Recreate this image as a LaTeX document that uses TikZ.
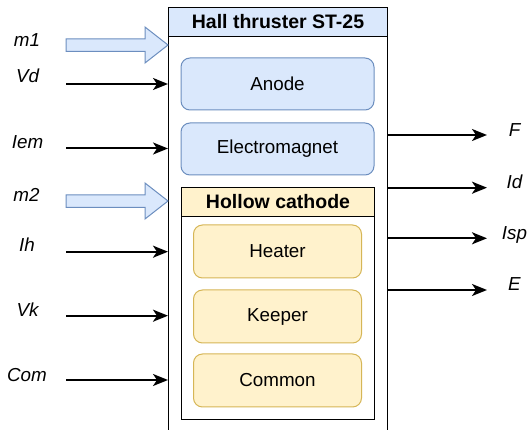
\documentclass[tikz,border=0pt]{standalone}
\usepackage{fontspec}
\setmainfont{Liberation Sans}
\usetikzlibrary{arrows.meta,calc}
\definecolor{bluefill}{HTML}{DAE8FC}
\definecolor{bluedraw}{HTML}{6C8EBF}
\definecolor{yelfill}{HTML}{FFF2CC}
\definecolor{yeldraw}{HTML}{D6B656}
\tikzset{
  txt/.style={font=\fontsize{18.8}{22}\selectfont},
  boldtxt/.style={font=\fontsize{19.5}{22}\selectfont\bfseries},
  lbl/.style={font=\fontsize{18.8}{22}\selectfont\itshape, inner sep=0pt, anchor=base},
  bluebox/.style={txt, draw=bluedraw, fill=bluefill, rounded corners=9pt, line width=1pt, minimum width=193pt, minimum height=52pt, inner sep=0pt},
  yelbox/.style={txt, draw=yeldraw, fill=yelfill, rounded corners=9pt, line width=1pt, minimum width=168pt, minimum height=53pt, inner sep=0pt},
  sig/.style={line width=2pt, -{Stealth[length=15pt,width=12pt,inset=4pt]}},
  blockarr/.style={draw=bluedraw, fill=bluefill, line width=1pt, line join=miter},
}
\begin{document}
\begin{tikzpicture}[x=1pt,y=-1pt]
\useasboundingbox (0,0) rectangle (528,430);
\clip (0,0) rectangle (528,430);
% outer container
\node[draw, fill=white, line width=1pt, anchor=north west, minimum width=219pt, minimum height=440pt, inner sep=0pt] (box) at (168,7) {};
\node[draw, fill=bluefill, line width=1pt, anchor=north west, minimum width=219pt, minimum height=29pt, inner sep=0pt, boldtxt] (title) at (168,7) {Hall thruster ST-25};
% inner blocks
\node[bluebox] (anode) at (277.5,84) {Anode};
\node[bluebox] (emag) at (277.5,149) {Electromagnet};
\node[draw, fill=white, line width=1pt, anchor=north west, minimum width=193pt, minimum height=232pt, inner sep=0pt] (hc) at (181,187) {};
\node[draw, fill=yelfill, line width=1pt, anchor=north west, minimum width=193pt, minimum height=29pt, inner sep=0pt, boldtxt] (hctitle) at (181,187) {Hollow cathode};
\node[yelbox] (heater) at (277.5,251.5) {Heater};
\node[yelbox] (keeper) at (277.5,316.5) {Keeper};
\node[yelbox] (common) at (277.5,380.5) {Common};
% block arrows (mass flows)
\draw[blockarr] (66,39) -- (145,39) -- (145,27) -- (168,45) -- (145,63) -- (145,51.5) -- (66,51.5) -- cycle;
\draw[blockarr] (66,195) -- (145,195) -- (145,183) -- (168,201) -- (145,219) -- (145,207.5) -- (66,207.5) -- cycle;
% input signals
\coordinate (vdS) at (66,84);
\coordinate (iemS) at (66,148.5);
\coordinate (ihS) at (66,251.7);
\coordinate (vkS) at (66,315.7);
\coordinate (comS) at (66,380);
\draw[sig] (vdS) -- (vdS -| box.west);
\draw[sig] (iemS) -- (iemS -| box.west);
\draw[sig] (ihS) -- (ihS -| box.west);
\draw[sig] (vkS) -- (vkS -| box.west);
\draw[sig] (comS) -- (comS -| box.west);
% output signals
\coordinate (fE) at (487,135);
\coordinate (idE) at (487,187.7);
\coordinate (ispE) at (487,238.3);
\coordinate (eE) at (487,290);
\draw[sig] (fE -| box.east) -- (fE);
\draw[sig] (idE -| box.east) -- (idE);
\draw[sig] (ispE -| box.east) -- (ispE);
\draw[sig] (eE -| box.east) -- (eE);
% labels
\node[lbl] (m1l) at (27,46.7) {m1};
\node[lbl] (vdl) at (27.5,83) {Vd};
\node[lbl] (ieml) at (27.5,149) {Iem};
\node[lbl] (m2l) at (26.5,201.7) {m2};
\node[lbl] (ihl) at (27,251.7) {Ih};
\node[lbl] (vkl) at (27.5,316.7) {Vk};
\node[lbl] (coml) at (27,381.7) {Com};
\node[lbl] (fl) at (514.5,137) {F};
\node[lbl] (idl) at (514.5,188.5) {Id};
\node[lbl] (ispl) at (514.5,240) {Isp};
\node[lbl] (el) at (514.5,291) {E};
\end{tikzpicture}
\end{document}
